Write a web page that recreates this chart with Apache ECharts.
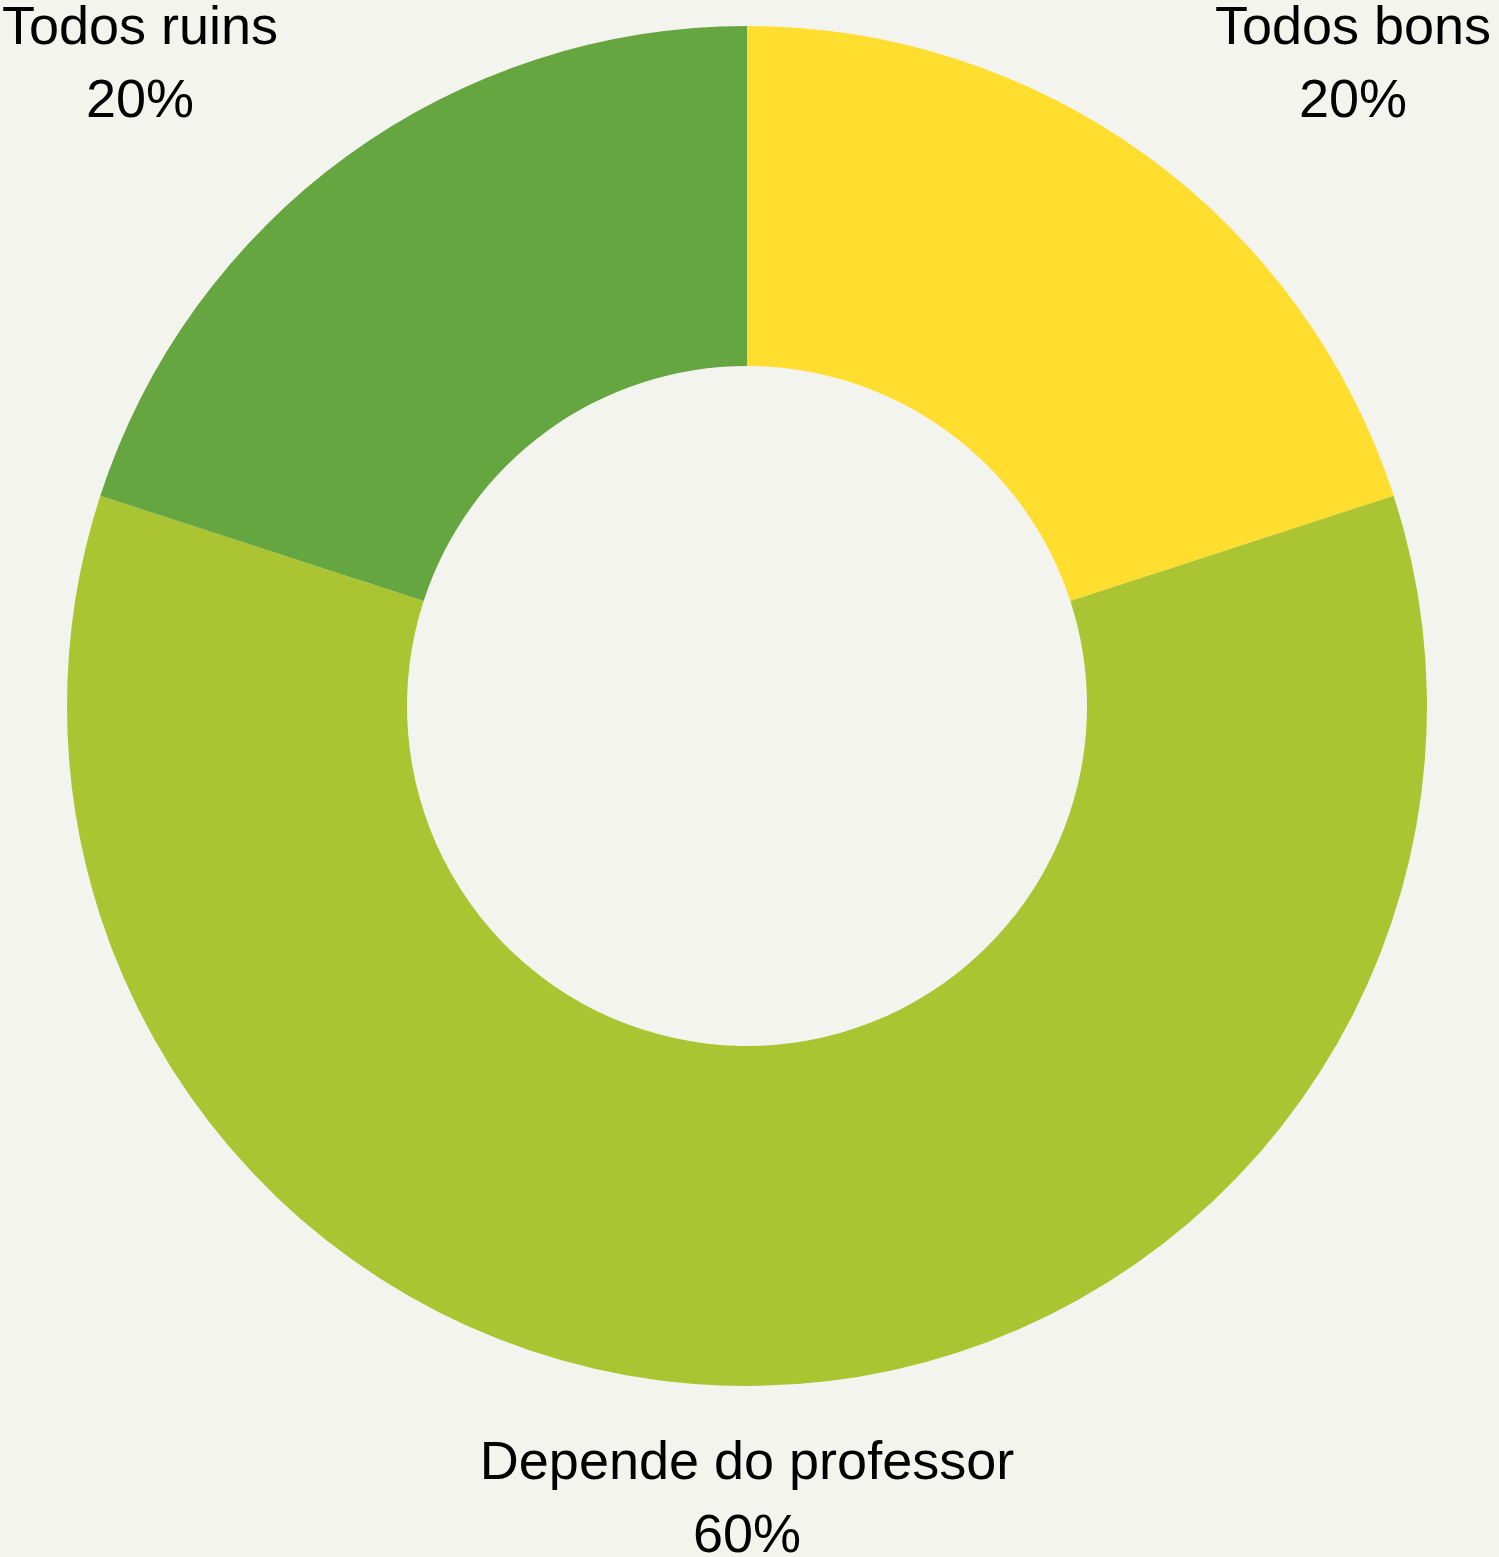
<!DOCTYPE html>
<html>
<head>
<meta charset="utf-8">
<script src="https://cdn.jsdelivr.net/npm/echarts@6/dist/echarts.min.js"></script>
<style>
  html, body { margin: 0; padding: 0; background: #f4f4ef; }
  #chart { width: 1499px; height: 1557px; }
</style>
</head>
<body>
<div id="chart"></div>
<script>
// data
var categories = ['Todos bons', 'Depende do professor', 'Todos ruins'];
var values = [20, 60, 20];
var colors = ['#ffde2f', '#abc432', '#66a641'];

// where each label block is centred
var labelSpots = [
    [1353, 66],
    [747, 1501],
    [140, 66]
];

var chart = echarts.init(document.getElementById('chart'));

var option = {
    backgroundColor: '#f4f4ef',
    animation: false,
    series: [{
        type: 'pie',
        center: [747, 706],
        radius: [340, 680],
        startAngle: 90,
        clockwise: true,
        label: {
            show: true,
            position: 'outside',
            formatter: function (p) {
                return p.name + '\n' + p.value + '%';
            },
            fontFamily: 'Liberation Sans',
            fontSize: 54,
            lineHeight: 73,
            color: '#000',
            textAlign: 'center'
        },
        labelLine: { show: false },
        labelLayout: function (params) {
            var s = labelSpots[params.dataIndex];
            return {
                x: s[0],
                y: s[1],
                align: 'center',
                verticalAlign: 'middle',
                hideOverlap: false,
                moveOverlap: false
            };
        },
        data: categories.map(function (c, i) {
            return { name: c, value: values[i], itemStyle: { color: colors[i] } };
        })
    }]
};

chart.setOption(option);
</script>
</body>
</html>
